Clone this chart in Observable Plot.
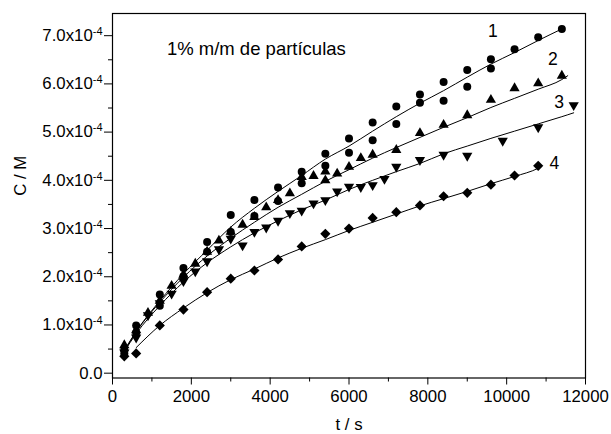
<!DOCTYPE html>
<html><head><meta charset="utf-8">
<script src="https://cdn.jsdelivr.net/npm/d3@7"></script>
<script src="https://cdn.jsdelivr.net/npm/@observablehq/plot@0.6"></script>
<style>body{margin:0;background:#fff}</style>
</head><body><div id="chart"></div>
<script>
// Concentrations in units of 1e-4 M, times in s
const t1 = [300,300,600,600,1200,1200,1800,1800,2400,2400,3000,3000,3600,3600,4200,4200,4800,4800,5400,5400,6000,6000,6600,6600,7200,7200,7800,7800,8400,8400,9000,9000,9600,9600,10200,10800,11400];
const c1 = [0.48,0.41,0.99,0.84,1.63,1.40,2.18,2.01,2.72,2.52,3.28,2.93,3.59,3.26,3.85,3.57,4.18,3.94,4.55,4.30,4.87,4.57,5.20,4.83,5.53,5.17,5.78,5.61,6.04,5.65,6.29,5.94,6.51,6.32,6.72,6.97,7.14];

const t2 = [300,600,900,1200,1500,1800,2100,2400,2700,3000,3300,3600,3900,4200,4500,4800,5100,5400,5400,5700,6000,6300,6600,7200,7800,8400,9000,9600,10200,10800,11400];
const c2 = [0.58,0.89,1.25,1.50,1.81,2.04,2.27,2.52,2.75,2.93,3.08,3.24,3.44,3.59,3.73,4.07,4.09,4.18,4.00,4.14,4.28,4.46,4.53,4.63,4.98,5.15,5.35,5.67,5.91,6.01,6.17];

const t3 = [300,600,900,1200,1500,1800,2100,2400,2700,3000,3300,3600,3900,4200,4500,4800,5100,5400,5700,6000,6300,6600,6900,7200,7800,8400,9000,9900,10800,11700];
const c3 = [0.43,0.74,1.20,1.45,1.65,1.91,2.11,2.32,2.57,2.79,2.65,2.93,3.02,3.16,3.32,3.37,3.52,3.59,3.77,3.87,3.86,3.90,4.03,4.28,4.42,4.53,4.51,4.82,5.10,5.56];

const t4 = [300,600,1200,1800,2400,3000,3600,4200,4800,5400,6000,6600,7200,7800,8400,9000,9600,10200,10800];
const c4 = [0.35,0.41,0.99,1.32,1.68,1.96,2.13,2.36,2.63,2.89,3.00,3.22,3.34,3.48,3.67,3.74,3.91,4.10,4.30];

// Fitted curves
const fitT1 = [300,600,1200,1800,2400,3000,3600,4200,4800,5400,6000,6600,7200,7800,8400,9000,9600,10200,10800,11400];
const fitC1 = [0.45,0.86,1.50,2.06,2.55,3.03,3.42,3.77,4.10,4.44,4.71,5.02,5.32,5.60,5.86,6.14,6.41,6.65,6.90,7.14];
const fitT2 = [300,600,1200,1800,2400,3000,3600,4200,4800,5400,6000,6600,7200,7800,8400,9000,9600,10200,10800,11400,11550];
const fitC2 = [0.48,0.86,1.47,1.99,2.43,2.80,3.13,3.44,3.71,3.98,4.22,4.46,4.68,4.89,5.10,5.30,5.51,5.70,5.89,6.09,6.17];
const fitT3 = [300,600,1200,1800,2400,3000,3600,4200,4800,5400,6000,6600,7200,7800,8400,9000,9600,10200,10800,11400,11700];
const fitC3 = [0.45,0.82,1.40,1.89,2.29,2.62,2.91,3.16,3.39,3.59,3.81,4.00,4.18,4.35,4.55,4.71,4.87,5.02,5.17,5.32,5.40];
const fitT4 = [600,1200,1800,2400,3000,3600,4200,4800,5400,6000,6600,7200,7800,8400,9000,9600,10200,10800,10870];
const fitC4 = [0.53,0.99,1.35,1.67,1.94,2.16,2.39,2.59,2.77,2.96,3.13,3.30,3.47,3.62,3.77,3.93,4.08,4.25,4.28];

// Curve labels
const curveLabels = ["1","2","3","4"];
const curveLabelT = [9650,11170,11330,11210];
const curveLabelC = [7.08,6.50,5.61,4.35];

const annotation = "1% m/m de partículas";
const annotationT = 1380;
const annotationC = 6.72;

const xTicks = [0,2000,4000,6000,8000,10000,12000];
const xMinor = [1000,3000,5000,7000,9000,11000];
const yTicks = [0,1,2,3,4,5,6,7];
const yMinor = [0.5,1.5,2.5,3.5,4.5,5.5,6.5];

const toRows = (ts, cs) => ts.map((t, i) => ({t, c: cs[i]}));
const pts1 = toRows(t1, c1), pts2 = toRows(t2, c2), pts3 = toRows(t3, c3), pts4 = toRows(t4, c4);
const fits = [toRows(fitT1, fitC1), toRows(fitT2, fitC2), toRows(fitT3, fitC3), toRows(fitT4, fitC4)];
const labRows = curveLabels.map((s, i) => ({s, t: curveLabelT[i], c: curveLabelC[i]}));

const chart = Plot.plot({
  width: 611,
  height: 434,
  marginLeft: 112,
  marginRight: 26,
  marginTop: 13,
  marginBottom: 56.5,
  style: {fontFamily: "'Liberation Sans', Arial, sans-serif", fontSize: "16.8px", color: "black", background: "white"},
  x: {domain: [0, 12000]},
  y: {domain: [-0.1, 7.46]},
  marks: [
    ...fits.map(f => Plot.line(f, {x: "t", y: "c", curve: "monotone-x", stroke: "black", strokeWidth: 1})),
    Plot.dot(pts1, {x: "t", y: "c", symbol: "circle", r: 4.0, fill: "black", stroke: "none"}),
    Plot.dot(pts2, {x: "t", y: "c", symbol: "triangle", r: 3.8, fill: "black", stroke: "none"}),
    Plot.dot(pts3, {x: "t", y: "c", symbol: "triangle", rotate: 180, r: 3.8, fill: "black", stroke: "none"}),
    Plot.dot(pts4, {x: "t", y: "c", symbol: "diamond2", r: 4.6, fill: "black", stroke: "none"}),
    Plot.text(labRows, {x: "t", y: "c", text: "s", fontSize: 17.5, fill: "black"}),
    Plot.text([annotation], {x: annotationT, y: annotationC, text: d => d, textAnchor: "start", fontSize: 18.5, fill: "black"}),
    Plot.frame({stroke: "black", strokeWidth: 1.2}),
    Plot.axisX({ticks: xTicks, tickSize: 7, tickPadding: 5, tickFormat: d => String(d), label: null}),
    Plot.axisX({ticks: xMinor, tickSize: 4, tickFormat: () => "", label: null}),
    Plot.axisY({ticks: yTicks, tickSize: 8, tickPadding: 2, tickFormat: d => d === 0 ? "0.0" : d.toFixed(1) + "x10", label: null}),
    Plot.axisY({ticks: yMinor, tickSize: 4, tickFormat: () => "", label: null}),
    Plot.text(["C / M"], {frameAnchor: "left", dx: -92, rotate: -90, text: d => d, fontSize: 16.8, fill: "black"}),
    Plot.text(["t / s"], {frameAnchor: "bottom", dy: 52, text: d => d, fontSize: 16.8, fill: "black"})
  ]
});
document.getElementById("chart").appendChild(chart);

// superscript exponent on y tick labels
chart.querySelectorAll("text").forEach(el => {
  if (/x10$/.test(el.textContent)) {
    const sp = document.createElementNS("http://www.w3.org/2000/svg", "tspan");
    sp.setAttribute("dy", "-0.55em");
    sp.setAttribute("font-size", "11px");
    sp.textContent = "-4";
    el.appendChild(sp);
  }
});
</script>
</body></html>
